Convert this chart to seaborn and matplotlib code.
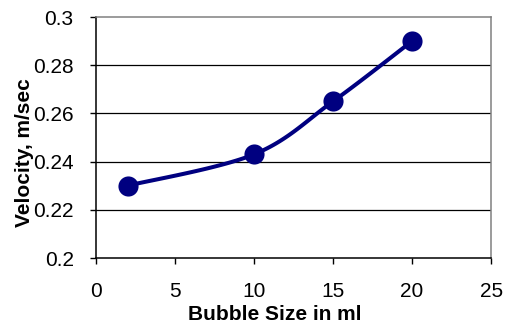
import numpy as np
import pandas as pd
import matplotlib
matplotlib.use("Agg")
import matplotlib.pyplot as plt
import seaborn as sns

bubble_size = [2, 10, 15, 20]
velocity = [0.230, 0.243, 0.265, 0.290]
x_ticks = [0, 5, 10, 15, 20, 25]
y_ticks = [0.2, 0.22, 0.24, 0.26, 0.28, 0.3]
y_tick_labels = ["0.2", "0.22", "0.24", "0.26", "0.28", "0.3"]

sns.set_theme(style="white")
plt.rcParams["font.family"] = ["Liberation Sans", "DejaVu Sans"]

fig = plt.figure(figsize=(5.10, 3.27), dpi=100)
ax = fig.add_axes([0.188, 0.211, 0.775, 0.737])
ax.set_xlim(0, 25)
ax.set_ylim(0.2, 0.3)

# Smoothed connecting curve (cubic Bezier segments, Catmull-Rom style control points),
# computed in screen-proportional coordinates so the shape follows the drawn aspect.
sx, sy = 395 / 25.0, 241 / 0.1
P = np.column_stack([np.array(bubble_size) * sx, np.array(velocity) * sy])
curve = []
n = len(P)
for i in range(n - 1):
    p0 = P[i - 1] if i > 0 else P[i]
    p1, p2 = P[i], P[i + 1]
    p3 = P[i + 2] if i + 2 < n else P[i + 1]
    c1 = p1 + (p2 - p0) / 6.0
    c2 = p2 - (p3 - p1) / 6.0
    t = np.linspace(0, 1, 40)[:, None]
    seg = ((1 - t) ** 3) * p1 + 3 * ((1 - t) ** 2) * t * c1 + 3 * (1 - t) * t ** 2 * c2 + t ** 3 * p2
    curve.append(seg if i == 0 else seg[1:])
curve = np.vstack(curve)
smooth = pd.DataFrame({"x": curve[:, 0] / sx, "y": curve[:, 1] / sy})

# horizontal gridlines
for yv in y_ticks[1:-1]:
    ax.axhline(yv, color="black", lw=0.9, zorder=1)

sns.lineplot(data=smooth, x="x", y="y", ax=ax, color="#000080", lw=2.9,
             sort=False, estimator=None, zorder=3)
pts = pd.DataFrame({"size": bubble_size, "vel": velocity})
sns.scatterplot(data=pts, x="size", y="vel", ax=ax, color="#000080", s=210,
                edgecolor="#000080", linewidth=0, zorder=4)

ax.set_xticks(x_ticks)
ax.set_yticks(y_ticks)
ax.set_xticklabels([str(v) for v in x_ticks])
ax.set_yticklabels(y_tick_labels)
ax.tick_params(axis="both", which="major", direction="out", length=4, width=1,
               color="black", labelsize=15, labelcolor="black",
               bottom=True, left=True)
ax.tick_params(axis="y", pad=12)
ax.tick_params(axis="x", pad=13)

for side in ["left", "bottom"]:
    ax.spines[side].set_color("black")
    ax.spines[side].set_linewidth(1.1)
for side in ["top", "right"]:
    ax.spines[side].set_visible(True)
    ax.spines[side].set_color("#808080")
    ax.spines[side].set_linewidth(1.1)

ax.set_xlabel("Bubble Size in ml", fontsize=15, fontweight="bold", color="black")
ax.set_ylabel("Velocity, m/sec", fontsize=15, fontweight="bold", color="black")
ax.xaxis.set_label_coords(0.453, -0.197)
ax.yaxis.set_label_coords(-0.18, 0.438)
ax.yaxis.label.set_va("center")
ax.grid(False)

fig.savefig("out.png", dpi=100, facecolor="white")
